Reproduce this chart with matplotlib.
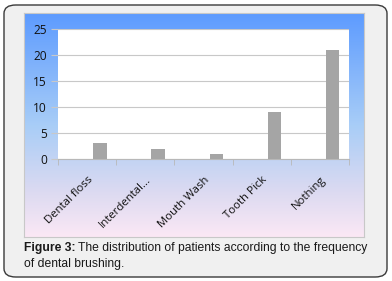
import numpy as np
import matplotlib
matplotlib.use('Agg')
import matplotlib.pyplot as plt
from matplotlib.patches import FancyBboxPatch
from matplotlib.colors import LinearSegmentedColormap

# Données
categories = ['Dental floss', 'Interdental...', 'Mouth Wash', 'Tooth Pick', 'Nothing']
patients = [3, 2, 1, 9, 21]
yticks = [0, 5, 10, 15, 20, 25]

W, H = 392, 281
fig = plt.figure(figsize=(W / 100, H / 100), dpi=100)
fig.patch.set_facecolor('white')

# Cadre extérieur arrondi
box = FancyBboxPatch((4 / W, 4 / H), 383 / W, 272 / H,
                     boxstyle='round,pad=0,rounding_size=0.03',
                     transform=fig.transFigure, facecolor='#f0f0f0',
                     edgecolor='#3a3a3a', linewidth=1.0, zorder=-5)
fig.patches.append(box)

# Zone du graphique avec dégradé
ax_bg = fig.add_axes([24 / W, 1 - 237 / H, 340 / W, 224 / H])
cmap = LinearSegmentedColormap.from_list(
    'grad', [(0, '#5d9bff'), (0.5, '#a8cdf7'), (0.8, '#dcdaf1'), (1, '#fbe8f5')])
grad = np.linspace(0, 1, 256).reshape(-1, 1)
ax_bg.imshow(grad, aspect='auto', cmap=cmap, extent=[0, 1, 1, 0])
ax_bg.set_xlim(0, 1)
ax_bg.set_ylim(1, 0)
ax_bg.set_xticks([])
ax_bg.set_yticks([])
for s in ax_bg.spines.values():
    s.set_color('#c8c8c8')
    s.set_linewidth(0.8)

# Zone de tracé
ax = fig.add_axes([58 / W, 1 - 159 / H, 291 / W, 130 / H])
ax.set_facecolor('white')
x = np.arange(len(categories))
ax.bar(x + 0.22, patients, width=0.23, color='#a5a5a5', zorder=3)

ax.set_xlim(-0.5, len(categories) - 0.5)
ax.set_ylim(0, 25)
ax.set_yticks(yticks)
ax.set_yticklabels([str(v) for v in yticks], fontsize=8.6, fontfamily='Open Sans', color='#111111')
ax.yaxis.grid(True, color='#c8c8c8', linewidth=0.8, zorder=0)
ax.tick_params(axis='y', length=5, color='#c8c8c8', pad=3)

ax.set_xticks(x)
ax.set_xticklabels(categories, rotation=45, ha='right', rotation_mode='anchor',
                   fontsize=8.2, fontfamily='Open Sans', color='#111111')
ax.set_xticks(np.arange(-0.5, len(categories)), minor=True)
ax.tick_params(axis='x', which='major', length=0, pad=11)
ax.tick_params(axis='x', which='minor', length=4, color='#b8b8b8')

for s in ['top', 'right', 'left']:
    ax.spines[s].set_visible(False)
ax.spines['bottom'].set_color('#b8b8b8')
ax.spines['bottom'].set_linewidth(0.8)

# Légende de la figure
cap = dict(fontsize=8.7, fontfamily='Liberation Sans', va='center', color='#1a1a1a')
t_bold = fig.text(24 / W, 1 - 248 / H, 'Figure 3:', fontweight='bold', **cap)
fig.canvas.draw()
bb = t_bold.get_window_extent()
fig.text((bb.x1 + 3) / W, 1 - 248 / H,
         'The distribution of patients according to the frequency', **cap)
fig.text(24 / W, 1 - 264 / H, 'of dental brushing.', **cap)

fig.savefig('out.png', dpi=100)
